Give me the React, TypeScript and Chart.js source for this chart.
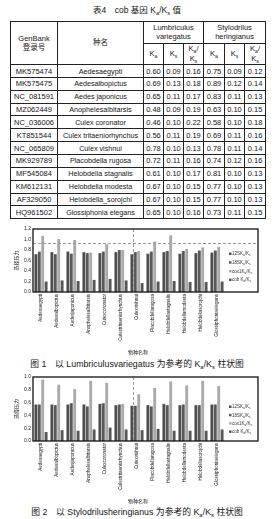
import React, { useEffect, useRef } from "react";
import { Chart, registerables } from "chart.js";
Chart.register(...registerables);

const FONT = '"Liberation Sans", "Noto Sans CJK SC", sans-serif';

// ---------- table data ----------
const accessions = ["MK575474", "MK575475", "NC_081591", "MZ062449", "NC_036006", "KT851544", "NC_065809", "MK929789", "MF545084", "KM612131", "AF329050", "HQ961502"];
const speciesNames = ["Aedesaegypti", "Aedesalbopictus", "Aedes japonicus", "Anophelesalbitarsis", "Culex coronator", "Culex tritaeniorhynchus", "Culex vishnui", "Placobdella rugosa", "Helobdella stagnalis", "Helobdella modesta", "Helobdella_sorojchi", "Glossiphonia elegans"];
const lvKa = [0.60, 0.69, 0.65, 0.48, 0.46, 0.56, 0.78, 0.72, 0.61, 0.67, 0.67, 0.65];
const lvKs = [0.09, 0.13, 0.11, 0.09, 0.10, 0.11, 0.10, 0.11, 0.10, 0.10, 0.10, 0.10];
const lvRatio = [0.16, 0.18, 0.17, 0.19, 0.22, 0.19, 0.13, 0.16, 0.17, 0.15, 0.15, 0.16];
const shKa = [0.75, 0.89, 0.83, 0.63, 0.58, 0.69, 0.78, 0.74, 0.81, 0.77, 0.77, 0.73];
const shKs = [0.09, 0.12, 0.11, 0.10, 0.10, 0.11, 0.11, 0.12, 0.10, 0.10, 0.10, 0.11];
const shRatio = [0.12, 0.14, 0.13, 0.15, 0.18, 0.16, 0.14, 0.16, 0.13, 0.13, 0.13, 0.15];

// ---------- chart data ----------
const chartCategories = ["Aedesaegypti", "Aedesalbopictus", "Aedesjaponicus", "Anophelesalbitarsis", "Culexcoronator", "Culextritaeniorhynchus", "Culexvishnui", "Placobdellarugosa", "Helobdellastagnalis", "Helobdellamodesta", "Helobdellasorojchi", "Glossiphoniaelegans"];
const seriesPrefixes = ["12S", "18S", "cox1", "cob "];
const seriesColors = ["#4e4e4e", "#5a5a5a", "#a9a9a9", "#565656"];

const fig1S12 = [0.72, 0.76, 0.77, 0.76, 0.74, 0.76, 0.72, 0.73, 0.76, 0.73, 0.74, 0.75];
const fig1S18 = [0.77, 0.72, 0.73, 0.74, 0.77, 0.80, 0.76, 0.77, 0.78, 0.78, 0.79, 0.79];
const fig1Cox1 = [1.07, 1.01, 0.99, 0.75, 0.91, 0.80, 0.78, 0.96, 1.08, 0.82, 0.85, 0.86];
const fig1Cob = [0.20, 0.22, 0.21, 0.23, 0.25, 0.22, 0.17, 0.20, 0.21, 0.19, 0.19, 0.20];
const fig1YMax = 1.2;
const fig1YStep = 0.2;
const fig1RefLine = 0.93;

const fig2S12 = [0.57, 0.57, 0.57, 0.57, 0.58, 0.56, 0.55, 0.56, 0.58, 0.56, 0.56, 0.57];
const fig2S18 = [0.57, 0.56, 0.59, 0.54, 0.59, 0.57, 0.55, 0.54, 0.56, 0.57, 0.56, 0.57];
const fig2Cox1 = [0.96, 0.88, 0.81, 0.94, 0.91, 0.58, 0.73, 0.83, 0.93, 0.87, 0.94, 0.86];
const fig2Cob = [0.14, 0.17, 0.16, 0.18, 0.21, 0.18, 0.17, 0.19, 0.16, 0.16, 0.16, 0.18];
const fig2YMax = 1.0;
const fig2YStep = 0.1;

const markedCategoryPos = 5.78; // dashed vertical marker (near Culexvishnui)
const yTitle = "选择压力";
const xTitle = "物种名称";

function drawKaKs(ctx: CanvasRenderingContext2D, prefix: string, x: number, y: number, size: number) {
  const parts: [string, boolean][] = [[prefix + "K", false], ["a", true], ["/K", false], ["s", true]];
  ctx.textAlign = "left";
  ctx.textBaseline = "middle";
  for (const [t, sub] of parts) {
    ctx.font = `${sub ? size * 0.7 : size}px ${FONT}`;
    ctx.fillText(t, x, sub ? y + size * 0.3 : y);
    x += ctx.measureText(t).width;
  }
}

const overlay = {
  id: "overlay",
  afterDraw(chart: any, _args: any, opts: any) {
    const { ctx, chartArea: a, scales } = chart;
    const frameRight = a.right + opts.frameExtra;
    ctx.save();
    ctx.strokeStyle = "#9a9a9a";
    ctx.lineWidth = 1;
    ctx.setLineDash([3, 2]);
    if (opts.hLine != null) {
      const y = Math.round(scales.y.getPixelForValue(opts.hLine)) + 0.5;
      ctx.beginPath();
      ctx.moveTo(a.left, y);
      ctx.lineTo(frameRight, y);
      ctx.stroke();
    }
    if (opts.vLine != null) {
      const x = Math.round(scales.x.getPixelForValue(opts.vLine)) + 0.5;
      ctx.beginPath();
      ctx.moveTo(x, a.top);
      ctx.lineTo(x, a.bottom);
      ctx.stroke();
    }
    ctx.setLineDash([]);
    ctx.strokeStyle = "#111";
    ctx.lineWidth = 1.3;
    ctx.strokeRect(a.left, a.top, frameRight - a.left, a.bottom - a.top);

    // legend
    const lx = a.right + 4;
    chart.data.datasets.forEach((ds: any, i: number) => {
      const y = a.top + opts.legendStart + i * opts.legendStep;
      ctx.fillStyle = ds.backgroundColor;
      ctx.fillRect(lx, y - 1.5, 2.5, 2.5);
      ctx.fillStyle = "#333";
      drawKaKs(ctx, seriesPrefixes[i], lx + 3, y, 4.5);
    });

    // axis titles
    ctx.fillStyle = "#222";
    ctx.font = `5px ${FONT}`;
    ctx.textAlign = "center";
    ctx.textBaseline = "middle";
    ctx.save();
    ctx.translate(17, (a.top + a.bottom) / 2);
    ctx.rotate(-Math.PI / 2);
    ctx.fillText(yTitle, 0, 0);
    ctx.restore();
    ctx.fillText(xTitle, 138, opts.xTitleY);
    ctx.restore();
  },
};

type BarProps = {
  top: number;
  height: number;
  series: number[][];
  yMax: number;
  yStep: number;
  hLine: number | null;
  xAxisHeight: number;
  legendStart: number;
  legendStep: number;
  xTitleY: number;
};

function BarChart(p: BarProps) {
  const ref = useRef<HTMLCanvasElement>(null);
  useEffect(() => {
    const chart = new Chart(ref.current as HTMLCanvasElement, {
      type: "bar",
      data: {
        labels: chartCategories,
        datasets: p.series.map((d, i) => ({
          label: seriesPrefixes[i] + "Ka/Ks",
          data: d,
          backgroundColor: seriesColors[i],
          borderWidth: 0,
          barPercentage: 0.85,
          categoryPercentage: 0.85,
        })),
      },
      options: {
        responsive: false,
        animation: false,
        devicePixelRatio: 1,
        layout: { padding: { top: 7, right: 49, left: 0, bottom: 0 } },
        plugins: {
          legend: { display: false },
          tooltip: { enabled: false },
          overlay: {
            frameExtra: 33,
            hLine: p.hLine,
            vLine: markedCategoryPos,
            legendStart: p.legendStart,
            legendStep: p.legendStep,
            xTitleY: p.xTitleY,
          },
        } as any,
        scales: {
          x: {
            grid: { display: false, drawTicks: false },
            border: { display: false },
            ticks: {
              autoSkip: false,
              minRotation: 90,
              maxRotation: 90,
              padding: 2,
              color: "#111",
              font: { size: 4.6, family: FONT },
            },
            afterFit: (s: any) => {
              s.height = p.xAxisHeight;
            },
          },
          y: {
            min: 0,
            max: p.yMax,
            grid: { display: false, drawTicks: false },
            border: { display: false },
            ticks: {
              stepSize: p.yStep,
              padding: 2,
              color: "#222",
              font: { size: 5, family: FONT },
              callback: (v: any) => Number(v).toFixed(1),
            },
            afterFit: (s: any) => {
              s.width = 33;
            },
          },
        },
      },
      plugins: [overlay as any],
    });
    return () => chart.destroy();
  }, []);
  return (
    <canvas
      ref={ref}
      width={274}
      height={p.height}
      style={{ position: "absolute", left: 0, top: p.top, width: 274, height: p.height }}
    />
  );
}

const Sub = ({ c }: { c: string }) => (
  <span style={{ fontSize: "0.68em", position: "relative", top: "0.3em" }}>{c}</span>
);
const KaKs = () => (
  <>
    K<Sub c="a" />/K<Sub c="s" />
  </>
);

const cell: React.CSSProperties = {
  border: "1px solid #222",
  padding: 0,
  textAlign: "center",
  verticalAlign: "middle",
  lineHeight: "9px",
  overflow: "hidden",
  whiteSpace: "nowrap",
};

export default function App() {
  const colW = [47, 86, 20, 20, 20, 21, 20, 21];
  return (
    <div
      style={{
        position: "absolute",
        left: 0,
        top: 0,
        width: 274,
        height: 519,
        background: "#fff",
        fontFamily: FONT,
        color: "#151515",
        overflow: "hidden",
      }}
    >
      <div style={{ position: "absolute", top: 4, left: 0, width: 274, textAlign: "center", fontSize: 8.5, lineHeight: "12px" }}>
        表4　cob 基因 <KaKs /> 值
      </div>
      <table
        style={{
          position: "absolute",
          left: 10,
          top: 20.5,
          width: 255,
          borderCollapse: "collapse",
          tableLayout: "fixed",
          fontSize: 7.5,
        }}
      >
        <colgroup>
          {colW.map((w, i) => (
            <col key={i} style={{ width: w }} />
          ))}
        </colgroup>
        <tbody>
          <tr style={{ height: 22.6 }}>
            <td rowSpan={2} style={cell}>
              GenBank
              <br />
              登录号
            </td>
            <td rowSpan={2} style={cell}>种名</td>
            <td colSpan={3} style={cell}>
              Lumbriculus
              <br />
              variegatus
            </td>
            <td colSpan={3} style={cell}>
              Stylodrilus
              <br />
              heringianus
            </td>
          </tr>
          <tr style={{ height: 20.7 }}>
            {[0, 1].map((g) => (
              <React.Fragment key={g}>
                <td style={cell}>
                  K<Sub c="a" />
                </td>
                <td style={cell}>
                  K<Sub c="s" />
                </td>
                <td style={cell}>
                  K<Sub c="a" />/
                  <br />K<Sub c="s" />
                </td>
              </React.Fragment>
            ))}
          </tr>
          {accessions.map((acc, i) => (
            <tr key={acc} style={{ height: 12.85 }}>
              <td style={cell}>{acc}</td>
              <td style={{ ...cell, fontSize: 7.2 }}>{speciesNames[i]}</td>
              {[lvKa, lvKs, lvRatio, shKa, shKs, shRatio].map((arr, j) => (
                <td key={j} style={cell}>
                  {arr[i].toFixed(2)}
                </td>
              ))}
            </tr>
          ))}
        </tbody>
      </table>

      <BarChart
        top={222}
        height={136}
        series={[fig1S12, fig1S18, fig1Cox1, fig1Cob]}
        yMax={fig1YMax}
        yStep={fig1YStep}
        hLine={fig1RefLine}
        xAxisHeight={66}
        legendStart={25}
        legendStep={8.7}
        xTitleY={131}
      />
      <div style={{ position: "absolute", top: 358, left: 0, width: 274, textAlign: "center", fontSize: 8.8, lineHeight: "12px" }}>
        图 1　以 Lumbriculusvariegatus 为参考的 <KaKs /> 柱状图
      </div>

      <BarChart
        top={370}
        height={136}
        series={[fig2S12, fig2S18, fig2Cox1, fig2Cob]}
        yMax={fig2YMax}
        yStep={fig2YStep}
        hLine={null}
        xAxisHeight={65}
        legendStart={30}
        legendStep={8.3}
        xTitleY={132}
      />
      <div style={{ position: "absolute", top: 506, left: 0, width: 274, textAlign: "center", fontSize: 8.8, lineHeight: "12px" }}>
        图 2　以 Stylodrilusheringianus 为参考的 <KaKs /> 柱状图
      </div>
    </div>
  );
}
